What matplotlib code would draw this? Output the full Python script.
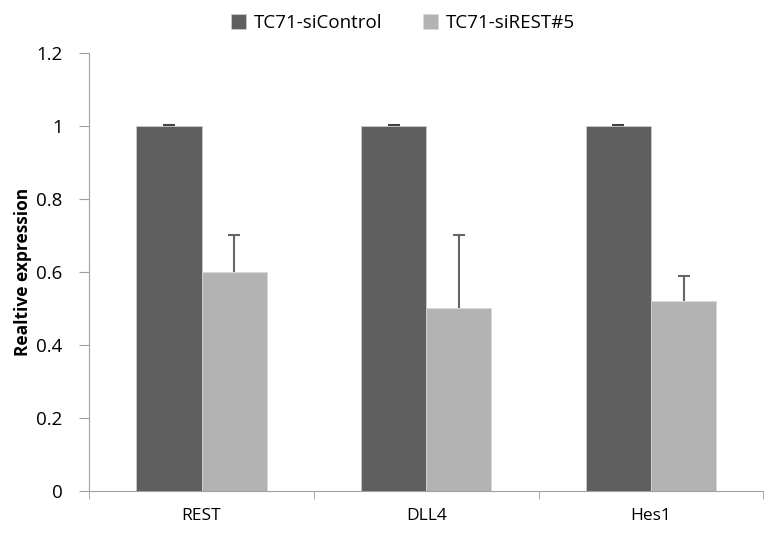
import numpy as np
import matplotlib.pyplot as plt

genes = ['REST', 'DLL4', 'Hes1']
control = [1.0, 1.0, 1.0]
control_err = [0.003, 0.003, 0.003]
knockdown = [0.60, 0.50, 0.52]
knockdown_err = [0.10, 0.20, 0.07]

plt.rcParams['font.family'] = ['Open Sans', 'DejaVu Sans']

fig = plt.figure(figsize=(7.75, 5.39), dpi=100)
ax = fig.add_axes([0.115, 0.089, 0.87, 0.813])

x = np.arange(len(genes))
w = 0.29
dark = '#5f5f5f'
light = '#b3b3b3'
ax.bar(x - w / 2, control, w, color=dark, edgecolor='#d0d0d0', linewidth=0.5,
       label='TC71-siControl')
ax.bar(x + w / 2, knockdown, w, color=light, edgecolor='#d8d8d8', linewidth=0.5,
       label='TC71-siREST#5')


def upper_err(xs, ys, errs, color):
    # only the upper half of the error bar, cap on top
    eb = ax.errorbar(xs, ys, yerr=[np.zeros(len(ys)), errs], fmt='none',
                     ecolor=color, capsize=4, elinewidth=1.5, capthick=1.5)
    eb.lines[1][0].set_visible(False)


upper_err(x - w / 2, control, control_err, '#444444')
upper_err(x + w / 2, knockdown, knockdown_err, '#666666')

ax.set_xlim(-0.5, 2.5)
ax.set_ylim(0, 1.2)
ax.set_yticks(np.arange(0, 1.21, 0.2))
ax.set_yticklabels(['0', '0.2', '0.4', '0.6', '0.8', '1', '1.2'])
ax.set_xticks(x)
ax.set_xticklabels(genes)
ax.set_xticks([-0.5, 0.5, 1.5, 2.5], minor=True)
ax.tick_params(axis='x', which='major', length=0, pad=12, labelsize=12.5)
ax.tick_params(axis='x', which='minor', length=6, color='#a0a0a0', direction='out')
ax.tick_params(axis='y', length=7, color='#a0a0a0', labelsize=13.5, pad=12)

for s in ['top', 'right']:
    ax.spines[s].set_visible(False)
for s in ['left', 'bottom']:
    ax.spines[s].set_color('#a0a0a0')

ax.set_ylabel('Realtive expression', fontsize=12.5, fontweight='bold', labelpad=3)

fig.legend(loc='upper center', bbox_to_anchor=(0.52, 1.005), ncol=2, frameon=False,
           fontsize=13.5, handlelength=0.8, handleheight=0.8, handletextpad=0.4,
           columnspacing=2.2)

fig.savefig('out.png', dpi=100)
